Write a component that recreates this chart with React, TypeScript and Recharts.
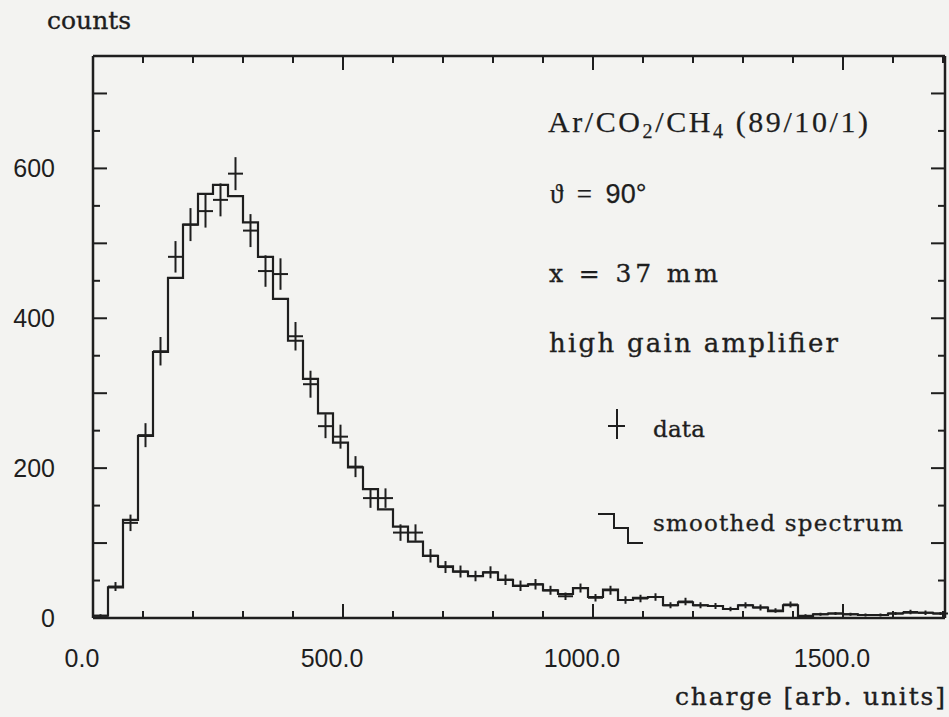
import React from 'react';
import { ComposedChart, Line, Scatter, ErrorBar, XAxis, YAxis } from 'recharts';

// ---- data ----
const BIN_WIDTH = 30;
const SMOOTHED = [3, 41, 131, 243, 355, 454, 525, 566, 578, 563, 528, 482, 426, 370, 319, 273, 234, 201, 172, 145, 122, 102, 83, 69, 62, 56, 61, 51, 43, 45, 37, 32, 40, 28, 38, 24, 27, 28, 17, 21, 17, 16, 12, 17, 14, 9, 17, 2, 5, 6, 5, 4, 4, 6, 7, 7, 6];
const DATA = [3, 42, 127, 244, 356, 482, 525, 543, 558, 593, 517, 463, 459, 376, 312, 256, 242, 202, 160, 160, 114, 114, 83, 68, 62, 56, 61, 51, 43, 45, 37, 29, 40, 27, 37, 24, 26, 28, 17, 22, 17, 16, 12, 17, 14, 10, 18, 3, 5, 6, 5, 4, 4, 6, 8, 7, 6];
const ERRORS = [2, 6, 11, 16, 19, 21, 22, 22, 22, 22, 22, 21, 21, 19, 18, 16, 16, 14, 13, 13, 11, 11, 9, 8, 8, 7, 8, 7, 7, 7, 6, 5, 6, 5, 6, 5, 5, 5, 4, 5, 4, 4, 3, 4, 4, 3, 4, 2, 2, 2, 2, 2, 2, 2, 3, 3, 2];

const X_TICKS = [0, 100, 200, 300, 400, 500, 600, 700, 800, 900, 1000, 1100, 1200, 1300, 1400, 1500, 1600, 1700];
const X_MAJOR = [0, 500, 1000, 1500];
const X_LABELS = ['0.0', '500.0', '1000.0', '1500.0'];
const Y_TICKS = [0, 50, 100, 150, 200, 250, 300, 350, 400, 450, 500, 550, 600, 650, 700];
const Y_MAJOR = [0, 100, 200, 300, 400, 500, 600, 700];
const Y_LABEL_VALUES = [0, 200, 400, 600];
const Y_LABELS = ['0', '200', '400', '600'];
const X_MAX = 1704;
const Y_MAX = 750;

const stepData = SMOOTHED.map((v, i) => ({ x: i * BIN_WIDTH, y: v })).concat([
  { x: SMOOTHED.length * BIN_WIDTH, y: SMOOTHED[SMOOTHED.length - 1] },
]);
const pointData = DATA.map((v, i) => ({
  x: i * BIN_WIDTH + BIN_WIDTH / 2,
  y: v,
  ex: BIN_WIDTH / 2,
  ey: ERRORS[i],
}));

// ---- styles ----
const INK = '#1e1e1e';
const NUM_FONT = '"Liberation Sans", "DejaVu Sans", Arial, sans-serif';
const TEXT_FONT = '"DejaVu Serif", "Liberation Serif", serif';
const ROMAN_FONT = '"Liberation Serif", "DejaVu Serif", serif';
const W = 949;
const H = 717;

function BottomTick(props: any) {
  const { x, y, payload } = props;
  const v = payload.value;
  const major = X_MAJOR.includes(v);
  const li = X_MAJOR.indexOf(v);
  return (
    <g>
      <line x1={x} x2={x} y1={y} y2={y - (major ? 14 : 7)} stroke={INK} strokeWidth={2} />
      {li >= 0 && (
        <text x={x - 11} y={y + 49} textAnchor="middle" style={{ fontFamily: NUM_FONT }} fontSize={25} fill={INK}>
          {X_LABELS[li]}
        </text>
      )}
    </g>
  );
}

function TopTick(props: any) {
  const { x, y, payload } = props;
  const major = X_MAJOR.includes(payload.value);
  return <line x1={x} x2={x} y1={y} y2={y + (major ? 14 : 7)} stroke={INK} strokeWidth={2} />;
}

function LeftTick(props: any) {
  const { x, y, payload } = props;
  const v = payload.value;
  const major = Y_MAJOR.includes(v);
  const li = Y_LABEL_VALUES.indexOf(v);
  return (
    <g>
      <line x1={x} x2={x + (major ? 14 : 7)} y1={y} y2={y} stroke={INK} strokeWidth={2} />
      {li >= 0 && (
        <text x={x - 38} y={y + 9} textAnchor="end" style={{ fontFamily: NUM_FONT }} fontSize={25} fill={INK}>
          {Y_LABELS[li]}
        </text>
      )}
    </g>
  );
}

function RightTick(props: any) {
  const { x, y, payload } = props;
  const major = Y_MAJOR.includes(payload.value);
  return <line x1={x} x2={x - (major ? 14 : 7)} y1={y} y2={y} stroke={INK} strokeWidth={2} />;
}

const axisLine = { stroke: INK, strokeWidth: 2.5 };
const txt = { fontFamily: TEXT_FONT, fill: INK, stroke: INK, strokeWidth: 0.35, whiteSpace: 'pre' } as const;
const roman = { fontFamily: ROMAN_FONT, fill: INK, stroke: INK, strokeWidth: 0.25, whiteSpace: 'pre' } as const;

export default function App() {
  return (
    <div style={{ position: 'absolute', left: 0, top: 0, width: W, height: H, background: '#f3f3f1', overflow: 'hidden' }}>
      <ComposedChart width={W} height={H} margin={{ top: 55, right: 3, bottom: 98, left: 92 }}>
        <XAxis
          xAxisId="bottom"
          dataKey="x"
          type="number"
          orientation="bottom"
          domain={[0, X_MAX]}
          allowDataOverflow
          ticks={X_TICKS}
          interval={0}
          height={1}
          tickSize={0}
          tickMargin={0}
          tickLine={false}
          axisLine={axisLine}
          tick={(p: any) => <BottomTick {...p} />}
        />
        <XAxis
          xAxisId="top"
          dataKey="x"
          type="number"
          orientation="top"
          domain={[0, X_MAX]}
          allowDataOverflow
          ticks={X_TICKS}
          interval={0}
          height={1}
          tickSize={0}
          tickMargin={0}
          tickLine={false}
          axisLine={axisLine}
          tick={(p: any) => <TopTick {...p} />}
        />
        <YAxis
          yAxisId="left"
          type="number"
          orientation="left"
          domain={[0, Y_MAX]}
          allowDataOverflow
          ticks={Y_TICKS}
          interval={0}
          width={1}
          tickSize={0}
          tickMargin={0}
          tickLine={false}
          axisLine={axisLine}
          tick={(p: any) => <LeftTick {...p} />}
        />
        <YAxis
          yAxisId="right"
          type="number"
          orientation="right"
          domain={[0, Y_MAX]}
          allowDataOverflow
          ticks={Y_TICKS}
          interval={0}
          width={1}
          tickSize={0}
          tickMargin={0}
          tickLine={false}
          axisLine={axisLine}
          tick={(p: any) => <RightTick {...p} />}
        />
        <Line
          xAxisId="bottom"
          yAxisId="left"
          data={stepData}
          dataKey="y"
          type="stepAfter"
          stroke={INK}
          strokeWidth={2.2}
          dot={false}
          activeDot={false}
          isAnimationActive={false}
          legendType="none"
        />
        <Scatter
          xAxisId="bottom"
          yAxisId="left"
          data={pointData}
          dataKey="y"
          isAnimationActive={false}
          shape={() => <g />}
        >
          <ErrorBar dataKey="ey" direction="y" width={0} stroke={INK} strokeWidth={2} isAnimationActive={false} />
          <ErrorBar dataKey="ex" direction="x" width={0} stroke={INK} strokeWidth={2} isAnimationActive={false} />
        </Scatter>
      </ComposedChart>

      <svg width={W} height={H} style={{ position: 'absolute', left: 0, top: 0, pointerEvents: 'none' }}>
        <text x={47} y={29} fontSize={25} style={txt}>counts</text>
        <text x={675} y={705} fontSize={25} textLength={270} style={txt}>charge [arb. units]</text>

        <text x={548} y={132} fontSize={30} textLength={320} style={roman}>
          Ar/CO<tspan fontSize={20} dy={6}>2</tspan>
          <tspan dy={-6}>/CH</tspan>
          <tspan fontSize={20} dy={6}>4</tspan>
          <tspan dy={-6}>{' (89/10/1)'}</tspan>
        </text>
        <text x={550} y={203} fontSize={27} style={roman}>
          {'ϑ  =  '}
          <tspan style={{ fontFamily: NUM_FONT }}>90°</tspan>
        </text>
        <text x={549} y={282} fontSize={25} textLength={169} style={txt}>
          {'x = 37 mm'}
        </text>
        <text x={549} y={352} fontSize={26} textLength={289} style={txt}>high gain amplifier</text>

        {/* legend */}
        <line x1={617} x2={617} y1={409} y2={439} stroke={INK} strokeWidth={2} />
        <line x1={608} x2={625} y1={426} y2={426} stroke={INK} strokeWidth={2} />
        <text x={653} y={437} fontSize={23} textLength={52} style={txt}>data</text>

        <polyline
          points="598,514 614,514 614,528 628,528 628,543 643,543"
          fill="none"
          stroke={INK}
          strokeWidth={2}
        />
        <text x={653} y={531} fontSize={23} textLength={250} style={txt}>smoothed spectrum</text>
      </svg>
    </div>
  );
}
